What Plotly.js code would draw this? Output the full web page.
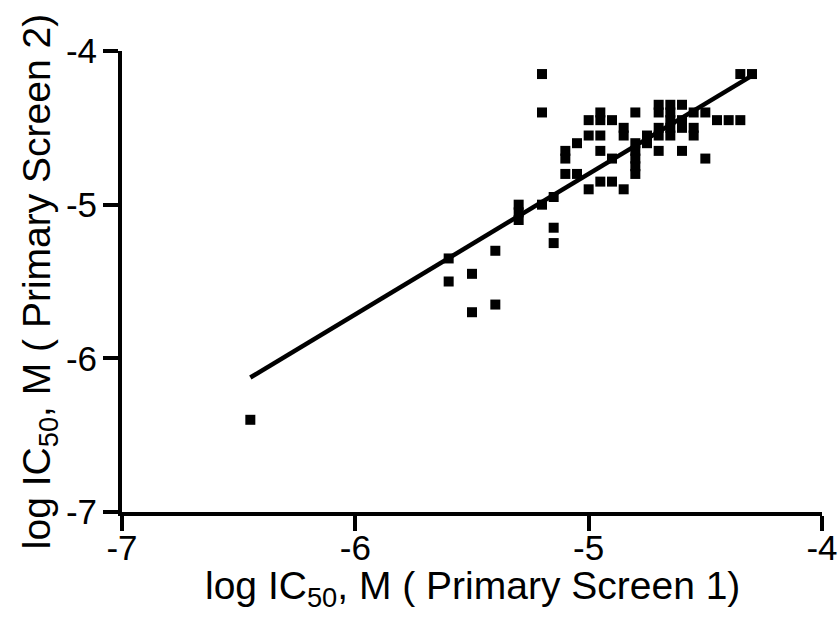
<!DOCTYPE html>
<html>
<head>
<meta charset="utf-8">
<script src="https://cdn.plot.ly/plotly-3.0.1.min.js"></script>
<style>html,body{margin:0;padding:0;background:#fff;}#chart{width:840px;height:625px;}</style>
</head>
<body>
<div id="chart"></div>
<script>
// Primary Screen 1 (x) vs Primary Screen 2 (y), log IC50 (M)
const screen1 = [-6.45, -5.6, -5.6, -5.5, -5.5, -5.4, -5.4, -5.3, -5.3, -5.3,
  -5.2, -5.2, -5.2, -5.15, -5.15, -5.15, -5.1, -5.1, -5.1, -5.05,
  -5.05, -5.0, -5.0, -5.0, -4.95, -4.95, -4.95, -4.95, -4.95, -4.9,
  -4.9, -4.9, -4.85, -4.85, -4.85, -4.8, -4.8, -4.8, -4.8, -4.8,
  -4.8, -4.75, -4.75, -4.7, -4.7, -4.7, -4.7, -4.7, -4.65, -4.65,
  -4.65, -4.65, -4.65, -4.6, -4.6, -4.6, -4.6, -4.55, -4.55, -4.55,
  -4.5, -4.5, -4.45, -4.4, -4.35, -4.35, -4.3];
const screen2 = [-6.4, -5.35, -5.5, -5.45, -5.7, -5.3, -5.65, -5.0, -5.05, -5.1,
  -5.0, -4.15, -4.4, -4.95, -5.15, -5.25, -4.65, -4.7, -4.8, -4.6,
  -4.8, -4.45, -4.55, -4.9, -4.4, -4.45, -4.55, -4.65, -4.85, -4.45,
  -4.7, -4.85, -4.5, -4.55, -4.9, -4.4, -4.6, -4.65, -4.7, -4.75,
  -4.8, -4.55, -4.6, -4.35, -4.4, -4.5, -4.55, -4.65, -4.35, -4.4,
  -4.45, -4.5, -4.55, -4.35, -4.45, -4.5, -4.65, -4.4, -4.5, -4.55,
  -4.4, -4.7, -4.45, -4.45, -4.45, -4.15, -4.15];
// regression line end points
const fitX = [-6.45, -4.30];
const fitY = [-6.125, -4.16];
const tickVals = [-7, -6, -5, -4];
const tickText = ['-7', '-6', '-5', '-4'];
const xTitle = 'log IC<sub>50</sub>, M ( Primary Screen 1)';
const yTitle = 'log IC<sub>50</sub>, M ( Primary Screen 2)';

const FONT = 'Liberation Sans, Arial, sans-serif';

const data = [
  {x: screen1, y: screen2, type: 'scatter', mode: 'markers',
   marker: {symbol: 'square', size: 10, color: '#000', line: {width: 0}},
   showlegend: false, hoverinfo: 'x+y'},
  {x: fitX, y: fitY, type: 'scatter', mode: 'lines',
   line: {color: '#000', width: 4.5}, showlegend: false}
];

const axisCommon = {
  range: [-7, -4], tickvals: tickVals, ticktext: tickText,
  showgrid: false, zeroline: false, showline: true,
  linecolor: '#000', linewidth: 4,
  ticks: 'outside', ticklen: 15, tickwidth: 4, tickcolor: '#000',
  tickfont: {family: FONT, size: 35, color: '#000'}
};

const layout = {
  width: 840, height: 625,
  margin: {l: 122, r: 17.5, t: 50.5, b: 112.5},
  paper_bgcolor: '#fff', plot_bgcolor: '#fff',
  font: {family: FONT, color: '#000'},
  xaxis: Object.assign({}, axisCommon, {
    ticklabelstandoff: -13
  }),
  yaxis: Object.assign({}, axisCommon, {
    ticklabelstandoff: -1,
    title: {text: yTitle, font: {family: FONT, size: 39, color: '#000'}, standoff: 4}
  }),
  annotations: [{
    text: xTitle, xref: 'paper', yref: 'paper', x: 0.5, y: -0.166,
    xanchor: 'center', yanchor: 'middle', showarrow: false,
    font: {family: FONT, size: 39, color: '#000'}
  }]
};

Plotly.newPlot('chart', data, layout, {displayModeBar: false, staticPlot: true});
</script>
</body>
</html>
